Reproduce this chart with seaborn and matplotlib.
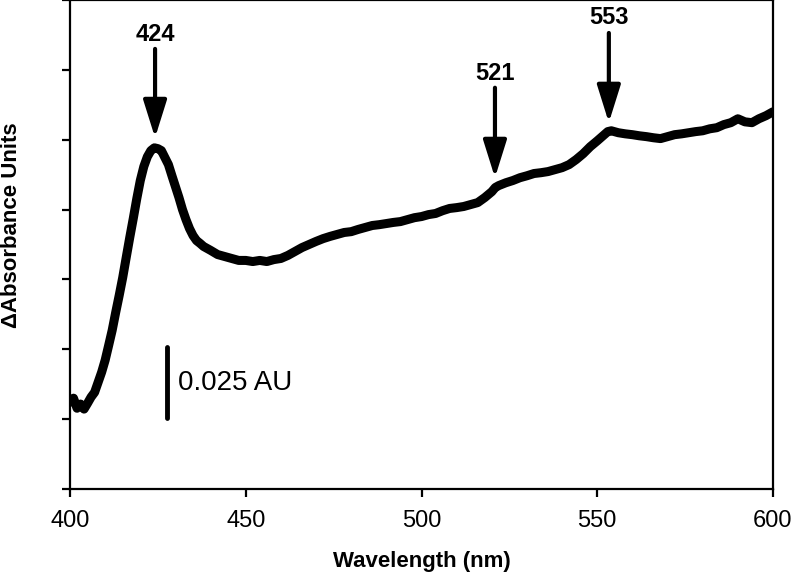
import numpy as np
import pandas as pd
import matplotlib
matplotlib.use("Agg")
import matplotlib.pyplot as plt
import seaborn as sns

# ---- data ----
wavelength = [400, 401, 402, 403, 404, 405, 406, 407, 408, 409, 410, 411, 412, 413, 414,
              415, 416, 417, 418, 419, 420, 421, 422, 423, 424, 425, 426, 427, 428, 429,
              430, 431, 432, 433, 434, 435, 436, 437, 438, 440, 442, 444, 446, 448, 450,
              452, 454, 456, 458, 460, 462, 464, 466, 468, 470, 472, 474, 476, 478, 480,
              482, 484, 486, 488, 490, 492, 494, 496, 498, 500, 502, 504, 506, 508, 510,
              512, 514, 516, 518, 520, 521, 522, 524, 526, 528, 530, 532, 534, 536, 538,
              540, 542, 544, 546, 548, 550, 552, 553, 554, 556, 558, 560, 562, 564, 566,
              568, 570, 572, 574, 576, 578, 580, 582, 584, 586, 588, 590, 592, 594, 596,
              598, 600]
delta_abs = [0.0311, 0.0325, 0.0289, 0.0304, 0.0286, 0.0307, 0.0329, 0.0346, 0.0382, 0.0418,
             0.0461, 0.0514, 0.0568, 0.0632, 0.0693, 0.0757, 0.0829, 0.0900, 0.0968, 0.1039,
             0.1104, 0.1154, 0.1189, 0.1211, 0.1221, 0.1218, 0.1211, 0.1186, 0.1161, 0.1121,
             0.1082, 0.1043, 0.1000, 0.0964, 0.0932, 0.0907, 0.0889, 0.0879, 0.0868, 0.0854,
             0.0839, 0.0832, 0.0825, 0.0818, 0.0818, 0.0814, 0.0818, 0.0814, 0.0821, 0.0825,
             0.0836, 0.0850, 0.0864, 0.0875, 0.0886, 0.0896, 0.0904, 0.0911, 0.0918, 0.0921,
             0.0929, 0.0936, 0.0943, 0.0946, 0.0950, 0.0954, 0.0957, 0.0964, 0.0971, 0.0975,
             0.0982, 0.0986, 0.0996, 0.1004, 0.1007, 0.1011, 0.1018, 0.1025, 0.1043, 0.1064,
             0.1079, 0.1086, 0.1096, 0.1104, 0.1114, 0.1121, 0.1129, 0.1132, 0.1136, 0.1143,
             0.1150, 0.1161, 0.1179, 0.1200, 0.1225, 0.1246, 0.1268, 0.1279, 0.1282, 0.1275,
             0.1271, 0.1268, 0.1264, 0.1261, 0.1257, 0.1254, 0.1261, 0.1268, 0.1271, 0.1275,
             0.1279, 0.1282, 0.1289, 0.1293, 0.1304, 0.1311, 0.1325, 0.1314, 0.1311, 0.1325,
             0.1336, 0.1350]

peak_labels = ["424", "521", "553"]
peak_x = [424.2, 520.9, 553.3]
peak_label_y = [0.1625, 0.1488, 0.1689]
arrow_start_y = [0.1575, 0.1436, 0.1632]
arrow_tip_y = [0.1257, 0.1114, 0.1311]

scale_bar_x = 427.6
scale_bar_y = [0.0254, 0.0507]
scale_bar_text = "0.025 AU"

x_ticks = [400, 450, 500, 550, 600]
y_ticks = [0, 0.025, 0.05, 0.075, 0.1, 0.125, 0.15, 0.175]

# ---- plot ----
sns.set_style("ticks")
plt.rcParams["font.family"] = ["Liberation Sans", "DejaVu Sans"]
plt.rcParams["text.color"] = "black"
plt.rcParams["axes.labelcolor"] = "black"
plt.rcParams["xtick.color"] = "black"
plt.rcParams["ytick.color"] = "black"
plt.rcParams["xtick.labelcolor"] = "black"

fig = plt.figure(figsize=(7.93, 5.74), dpi=100)
ax = fig.add_axes([70 / 793, 85 / 574, 703 / 793, 489 / 574])

df = pd.DataFrame({"Wavelength": wavelength, "dA": delta_abs})
sns.lineplot(data=df, x="Wavelength", y="dA", ax=ax, color="black", linewidth=6.5,
             solid_capstyle="round", solid_joinstyle="round")

ax.set_xlim(400, 600)
ax.set_ylim(0, 0.175)
ax.set_xticks(x_ticks)
ax.set_xticklabels([str(t) for t in x_ticks])
ax.set_yticks(y_ticks)
ax.set_yticklabels([])

for s in ax.spines.values():
    s.set_linewidth(1.6)
    s.set_color("black")
ax.tick_params(axis="both", direction="out", length=6, width=1.6, color="black",
               labelcolor="black")
ax.tick_params(axis="x", labelsize=17, pad=9)

ax.set_xlabel("Wavelength (nm)", fontsize=16, fontweight="bold", labelpad=14,
              color="black")
ax.set_ylabel("\u0394Absorbance Units", fontsize=16, fontweight="bold",
              color="black")
ax.yaxis.set_label_coords(-0.068, 0.54)

for lab, px, ly, ys, yt in zip(peak_labels, peak_x, peak_label_y, arrow_start_y, arrow_tip_y):
    ax.text(px, ly, lab, ha="center", va="center", fontsize=17, fontweight="bold",
            color="black")
    ax.annotate("", xy=(px, yt), xytext=(px, ys),
                arrowprops=dict(arrowstyle="-|>,head_length=1.15,head_width=0.36",
                                lw=3, color="black", mutation_scale=20,
                                shrinkA=0, shrinkB=0))

ax.plot([scale_bar_x, scale_bar_x], scale_bar_y, color="black", lw=3.5,
        solid_capstyle="round")
ax.text(scale_bar_x + 3.2, np.mean(scale_bar_y), scale_bar_text, ha="left",
        va="center", fontsize=20, color="black")

fig.savefig("out.png", dpi=100)
